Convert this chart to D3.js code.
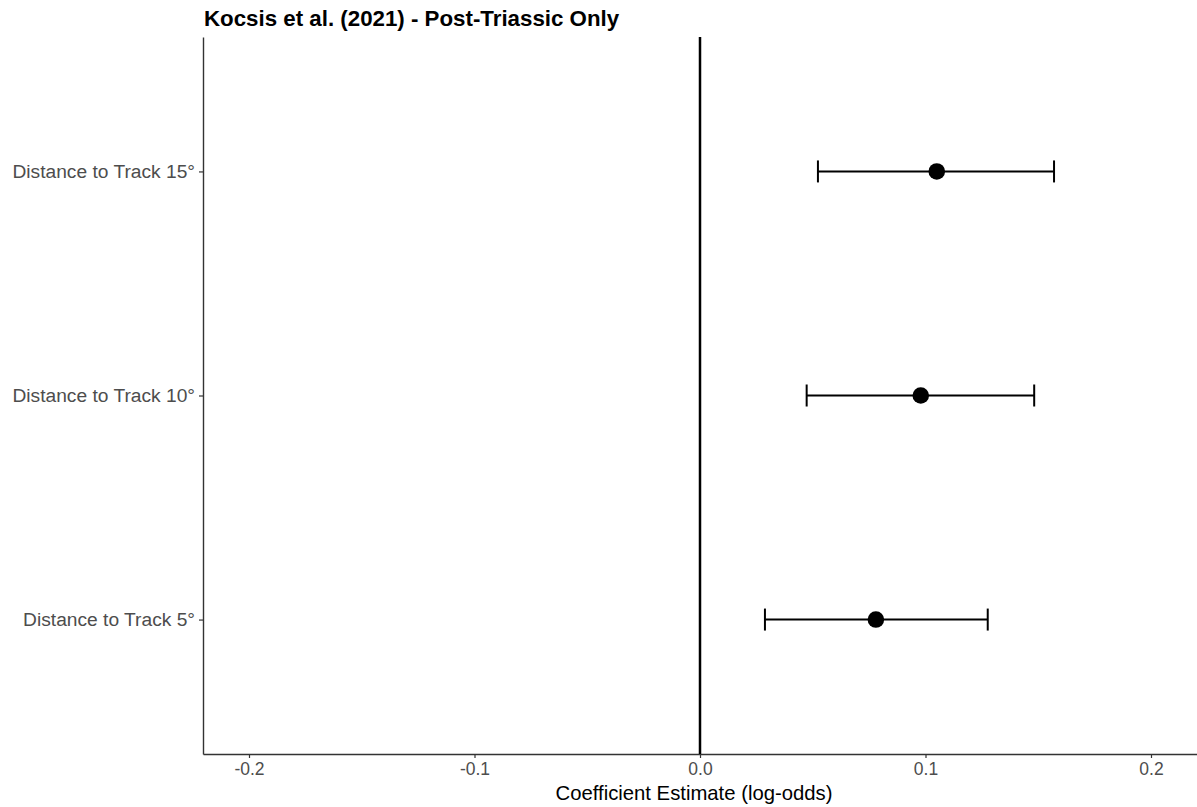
<!DOCTYPE html>
<html>
<head>
<meta charset="utf-8">
<script src="https://cdn.jsdelivr.net/npm/d3@7"></script>
<style>
  body { margin: 0; background: #fff; }
  svg { display: block; font-family: "Liberation Sans", Arial, sans-serif; }
</style>
</head>
<body>
<svg id="chart"></svg>
<script>
// coefficient estimates with 95% CI, top to bottom
var terms = ["Distance to Track 15°", "Distance to Track 10°", "Distance to Track 5°"]
var estimates = [0.105, 0.0979, 0.078]
var ci_low = [0.0523, 0.0473, 0.0288]
var ci_high = [0.157, 0.1482, 0.1276]
var x_ticks = [-0.2, -0.1, 0.0, 0.1, 0.2]

var width = 1197, height = 807
var margin = {top: 37, right: 0, bottom: 53, left: 203}

var svg = d3.select("#chart").attr("width", width).attr("height", height)

var x = d3.scaleLinear()
  .domain([-0.2204, 0.2204])
  .range([margin.left, width - margin.right])

// discrete axis with 0.6 expansion each side like ggplot
var y = d3.scalePoint()
  .domain(terms)
  .range([margin.top, height - margin.bottom])
  .padding(0.6)

var xAxis = svg.append("g")
  .attr("transform", `translate(0,${height - margin.bottom})`)
  .call(d3.axisBottom(x).tickValues(x_ticks)
    .tickFormat(d => d.toFixed(1))
    .tickSize(4).tickSizeOuter(0).tickPadding(5))
xAxis.select(".domain").attr("stroke", "#333").attr("stroke-width", 1.4)
xAxis.selectAll(".tick line").attr("stroke", "#333").attr("stroke-width", 1.2)
xAxis.selectAll(".tick text").attr("fill", "#4d4d4d").attr("font-size", 17.5)

var yAxis = svg.append("g")
  .attr("transform", `translate(${margin.left},0)`)
  .call(d3.axisLeft(y).tickSize(4).tickSizeOuter(0).tickPadding(4))
yAxis.select(".domain").attr("stroke", "#333").attr("stroke-width", 1.4)
yAxis.selectAll(".tick line").attr("stroke", "#333").attr("stroke-width", 1.2)
yAxis.selectAll(".tick text").attr("fill", "#4d4d4d").attr("font-size", 19.2)

// zero reference line
svg.append("line")
  .attr("x1", x(0)).attr("x2", x(0))
  .attr("y1", margin.top).attr("y2", height - margin.bottom)
  .attr("stroke", "#000").attr("stroke-width", 2.5)

var rows = terms.map(function(t, i) {
  return {term: t, est: estimates[i], lo: ci_low[i], hi: ci_high[i]}
})

var cap = 11
var g = svg.append("g")
g.selectAll(".bar").data(rows).enter().append("line")
  .attr("x1", d => x(d.lo)).attr("x2", d => x(d.hi))
  .attr("y1", d => y(d.term)).attr("y2", d => y(d.term))
  .attr("stroke", "#000").attr("stroke-width", 2)
g.selectAll(".capl").data(rows).enter().append("line")
  .attr("x1", d => x(d.lo)).attr("x2", d => x(d.lo))
  .attr("y1", d => y(d.term) - cap).attr("y2", d => y(d.term) + cap)
  .attr("stroke", "#000").attr("stroke-width", 2)
g.selectAll(".caph").data(rows).enter().append("line")
  .attr("x1", d => x(d.hi)).attr("x2", d => x(d.hi))
  .attr("y1", d => y(d.term) - cap).attr("y2", d => y(d.term) + cap)
  .attr("stroke", "#000").attr("stroke-width", 2)
g.selectAll("circle").data(rows).enter().append("circle")
  .attr("cx", d => x(d.est)).attr("cy", d => y(d.term))
  .attr("r", 8.3).attr("fill", "#000")

svg.append("text")
  .attr("x", margin.left + 1).attr("y", 26)
  .attr("font-size", 22.3).attr("font-weight", "bold").attr("fill", "#000")
  .text("Kocsis et al. (2021) - Post-Triassic Only")

svg.append("text")
  .attr("x", (margin.left + width - margin.right) / 2 - 6).attr("y", 800)
  .attr("text-anchor", "middle").attr("font-size", 20.3).attr("fill", "#000")
  .text("Coefficient Estimate (log-odds)")
</script>
</body>
</html>
